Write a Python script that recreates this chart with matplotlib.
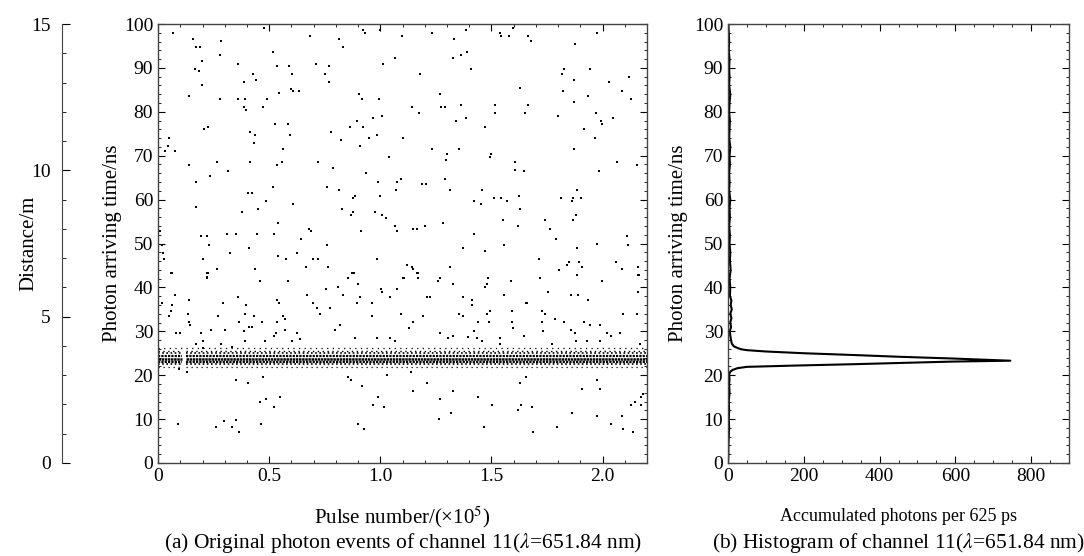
import numpy as np
import matplotlib.pyplot as plt
from matplotlib.ticker import MultipleLocator

plt.rcParams['font.family'] = ['Liberation Serif', 'DejaVu Serif']
plt.rcParams['mathtext.fontset'] = 'stix'

# background (noise) photon events: pulse number (x1e5), arrival time (ns)
pulse_x = [0.066, 0.156, 0.283, 0.171, 0.189, 0.279, 0.199, 0.168, 0.186, 0.196, 0.141, 0.279, 0.361, 0.391,
           0.360, 0.385, 0.429, 0.441, 0.388, 0.394, 0.475, 0.516, 0.534, 0.546, 0.489, 0.471, 0.588, 0.603,
           0.600, 0.609, 0.634, 0.528, 0.585, 0.592, 0.414, 0.435, 0.432, 0.561, 0.534, 0.559, 0.414, 0.207,
           0.226, 0.141, 0.267, 0.313, 0.235, 0.169, 0.172, 0.049, 0.044, 0.031, 0.076, 0.403, 0.421, 0.448,
           0.486, 0.378, 0.519, 0.607, 0.541, 0.520, 0.447, 0.351, 0.312, 0.192, 0.219, 0.229, 0.409, 0.324,
           0.202, 0.027, 0.024, 0.017, 0.009, 0.538, 0.576, 0.624, 0.643, 0.678, 0.690, 0.699, 0.718, 0.760,
           0.766, 0.666, 0.438, 0.265, 0.222, 0.059, 0.219,
           0.682, 0.813, 0.834, 0.709, 0.769, 0.751, 0.768, 0.922, 0.931, 0.999, 1.096, 1.068, 1.012, 1.178,
           0.903, 0.919, 0.993, 1.008, 0.967, 1.144, 1.174, 0.780, 0.825, 0.864, 0.897, 0.924, 0.909, 0.949,
           0.985, 1.104, 1.037, 0.721, 0.789, 0.937, 0.990, 1.074, 1.093, 1.186, 1.207, 0.759, 0.813, 0.888,
           0.879, 0.997, 1.071, 0.826, 0.877, 0.870, 0.975, 1.006, 1.024, 0.915, 1.065, 1.077, 1.147, 1.164,
           1.200, 0.984, 1.119, 1.141, 1.149, 1.164, 1.104, 1.170, 0.874, 0.882, 0.855,
           1.233, 1.332, 1.386, 1.539, 1.543, 1.579, 1.663, 1.676, 1.597, 1.973, 1.876, 1.329, 1.362, 1.389,
           1.410, 1.826, 1.819, 1.870, 1.942, 2.029, 2.119, 2.086, 2.126, 1.628, 1.820, 1.871, 1.936, 1.269,
           1.272, 1.291, 1.363, 1.341, 1.384, 1.517, 1.517, 1.471, 1.663, 1.651, 1.801, 1.969, 1.996, 1.993,
           2.047, 1.918, 1.966, 1.231, 1.299, 1.297, 1.355, 1.496, 1.494, 1.604, 1.604, 1.646, 1.871, 1.984,
           2.065, 2.153, 1.290, 1.314, 1.423, 1.453, 1.459, 1.510, 1.544, 1.570, 1.624, 1.628, 1.814, 1.862,
           1.868, 1.885, 1.903, 1.282, 1.200, 1.551, 1.621, 1.742, 1.763, 1.865, 1.882, 1.423, 1.789, 1.973,
           2.108, 2.115, 1.373, 1.472, 1.556, 1.883, 1.315, 1.714, 1.849, 1.840, 1.894, 1.906, 1.804, 2.060,
           2.086, 2.161, 2.161, 1.486, 1.718, 1.269,
           0.061, 0.219, 0.226, 0.457, 0.585, 0.018, 0.063, 0.058, 0.051, 0.075, 0.138, 0.134, 0.141, 0.145,
           0.082, 0.099, 0.192, 0.171, 0.204, 0.238, 0.204, 0.291, 0.271, 0.303, 0.283, 0.331, 0.361, 0.366,
           0.391, 0.397, 0.388, 0.409, 0.423, 0.393, 0.432, 0.466, 0.481, 0.534, 0.544, 0.534, 0.523, 0.529,
           0.562, 0.570, 0.573, 0.601, 0.625, 0.640, 0.670, 0.699, 0.714, 0.729, 0.774, 0.756, 0.811, 0.834,
           0.820, 0.796, 0.855, 0.876, 0.898, 0.909, 0.894, 0.961, 0.961, 0.885, 1.003, 1.006, 1.044, 1.074,
           1.095, 1.107, 1.128, 1.149, 1.171, 1.171, 1.194, 1.211, 0.984, 1.044, 1.066,
           0.132, 0.093, 0.351, 0.403, 0.471, 0.459, 0.486, 0.463, 0.523, 0.549, 0.088, 0.261, 0.297, 0.334,
           0.352, 0.366, 0.855, 0.870, 0.919, 0.967, 0.990, 1.017, 0.898, 0.928, 1.029, 1.137, 1.149, 1.209,
           1.261, 1.329, 1.471, 1.486, 1.479, 1.587, 1.557, 1.662, 1.719, 1.755, 1.858, 1.883, 1.891, 1.933,
           1.996, 2.164, 2.158, 1.224, 1.210, 1.374, 1.411, 1.411, 1.356, 1.370, 1.438, 1.421, 1.393, 1.479,
           1.494, 1.491, 1.434, 1.456, 1.591, 1.591, 1.537, 1.538, 1.599, 1.654, 1.648, 1.729, 1.728, 1.730,
           1.741, 1.786, 1.772, 1.826, 1.860, 1.875, 1.880, 1.918, 1.943, 1.928, 1.988, 1.988, 2.018, 2.039,
           2.078, 2.090, 2.153, 2.168, 1.267, 1.329, 1.306,
           1.628, 1.655, 1.209, 1.269, 1.329, 1.266, 1.317, 1.438, 1.468, 1.504, 1.621, 1.635, 1.684, 1.689,
           1.797, 1.861, 1.907, 1.974, 1.988, 1.974, 2.038, 2.089, 2.092, 2.135, 2.128, 2.146, 2.171, 2.183,
           2.175]
time_y = [98.0, 96.7, 96.1, 94.8, 94.8, 92.9, 91.6, 89.8, 89.2, 86.0, 83.5, 82.9, 82.9, 82.9,
          91.0, 86.7, 88.5, 87.2, 81.0, 80.4, 99.2, 93.6, 90.4, 84.2, 82.9, 81.0, 90.4, 88.5,
          85.3, 84.8, 84.8, 77.3, 77.3, 74.7, 75.4, 74.7, 72.8, 71.6, 67.9, 68.5, 68.5, 76.0,
          76.6, 67.9, 68.5, 66.6, 65.4, 64.1, 58.4, 74.1, 72.3, 71.1, 71.1, 61.6, 61.6, 57.8,
          59.7, 57.2, 62.8, 59.1, 54.7, 52.2, 52.2, 52.2, 52.2, 51.6, 51.6, 49.7, 49.0, 47.8,
          46.5, 46.5, 47.8, 49.7, 52.8, 47.2, 46.5, 47.8, 51.0, 53.4, 52.8, 46.5, 46.5, 49.7,
          44.7, 44.7, 44.1, 44.1, 43.3, 43.3, 42.1,
          97.3, 96.7, 94.8, 91.0, 90.4, 88.5, 86.7, 98.6, 98.0, 98.6, 97.3, 92.3, 91.0, 88.5,
          84.1, 82.9, 82.9, 79.1, 78.5, 81.0, 79.8, 75.3, 73.5, 76.6, 77.9, 76.6, 72.3, 74.1,
          74.7, 74.1, 69.8, 68.5, 67.2, 66.0, 64.1, 64.1, 64.7, 63.5, 63.5, 62.8, 62.2, 60.9,
          60.3, 60.9, 62.2, 57.8, 57.2, 56.5, 57.2, 56.5, 55.9, 52.8, 54.0, 52.8, 53.4, 53.4,
          54.0, 46.5, 45.2, 44.7, 44.1, 43.3, 42.1, 42.1, 43.3, 43.3, 42.1,
          98.0, 96.7, 98.6, 97.9, 97.3, 97.3, 97.3, 96.1, 99.2, 98.0, 95.4, 92.3, 92.9, 93.6,
          89.8, 89.8, 88.5, 87.2, 89.8, 86.7, 87.9, 84.8, 82.9, 85.4, 84.8, 82.3, 83.5, 84.1,
          81.0, 81.0, 81.6, 77.9, 78.5, 81.6, 79.8, 76.6, 81.6, 79.8, 79.1, 79.8, 77.2, 77.8,
          78.5, 76.0, 74.1, 71.6, 70.3, 69.0, 71.6, 70.3, 69.8, 68.5, 66.7, 66.6, 71.6, 66.6,
          68.5, 67.9, 64.7, 62.2, 59.7, 59.1, 62.2, 60.3, 60.3, 59.7, 60.9, 57.8, 60.3, 59.7,
          60.3, 62.2, 60.3, 54.7, 54.1, 55.3, 54.0, 55.3, 53.4, 55.3, 56.5, 52.2, 51.0, 50.0,
          51.6, 49.7, 49.0, 48.4, 49.7, 49.0, 44.7, 46.5, 45.8, 45.2, 45.8, 44.7, 44.0, 45.8,
          44.1, 44.7, 42.8, 42.1, 42.1, 42.1,
          43.3, 42.3, 43.3, 41.5, 41.5, 36.5, 35.9, 34.6, 33.4, 38.3, 37.1, 34.0, 32.1, 31.4,
          29.6, 29.6, 29.6, 27.1, 27.8, 30.3, 26.1, 36.5, 33.4, 30.3, 27.1, 26.5, 37.7, 32.1,
          34.0, 35.9, 30.1, 30.9, 30.9, 27.8, 33.4, 32.1, 27.8, 37.1, 36.5, 32.1, 29.0, 29.5,
          33.4, 32.8, 30.3, 27.8, 29.6, 28.2, 38.3, 36.5, 35.3, 34.0, 35.3, 39.6, 40.2, 38.3,
          31.5, 30.3, 42.1, 43.3, 40.8, 37.7, 36.5, 36.5, 33.4, 28.4, 39.6, 39.0, 37.7, 39.6,
          34.0, 42.1, 30.8, 32.1, 43.3, 42.1, 33.4, 37.7, 28.4, 28.4, 27.8,
          20.8, 21.3, 19.0, 18.3, 19.5, 13.9, 14.5, 8.9, 12.7, 15.1, 8.9, 8.3, 9.5, 8.3,
          9.9, 7.0, 19.5, 19.0, 17.6, 13.3, 15.1, 12.7, 8.9, 7.7, 20.1, 20.8, 16.4, 18.3,
          41.5, 40.8, 40.2, 42.1, 40.8, 41.5, 38.3, 36.5, 42.1, 39.0, 38.3, 42.8, 38.3, 37.1,
          41.5, 42.8, 39.0, 37.7, 37.7, 37.7, 37.1, 35.9, 34.0, 33.4, 32.1, 30.1, 28.6, 34.0,
          34.6, 32.1, 28.4, 27.8, 34.6, 32.1, 28.4, 27.1, 30.8, 36.4, 29.0, 34.6, 32.1, 30.1,
          34.0, 32.8, 27.1, 32.1, 30.2, 29.6, 27.8, 32.1, 31.4, 27.8, 31.4, 27.8, 29.6, 29.0,
          29.6, 34.0, 34.0, 27.1, 29.6, 29.0, 28.4,
          18.3, 19.5, 18.3, 14.5, 16.4, 10.1, 11.3, 15.1, 8.3, 13.3, 12.0, 13.3, 12.7, 7.0,
          8.3, 11.3, 16.9, 18.9, 16.9, 10.8, 8.9, 10.8, 7.7, 7.0, 13.3, 14.0, 13.3, 15.8,
          15.1]

# signal band: arrival-time rows (625 ps bins) filled almost every pulse
band_levels = [21.9, 22.5, 23.1, 23.8, 24.4, 25.0, 25.6, 26.2]
band_starts = [0.0, 0.128]
band_ends = [0.110, 2.2]

# histogram of channel 11
hist_time = [0, 2, 4, 6, 8, 10, 12, 14, 16, 18, 19, 20.2, 20.8, 21.2, 21.6, 21.9, 22.2, 22.5, 22.8, 23.1,
             23.3, 23.8, 24.2, 24.6, 25.0, 25.4, 25.7, 25.9, 26.2, 26.6, 27.2, 28, 29, 30, 31, 32, 33,
             34, 35, 36, 37, 38, 40, 42, 44, 46, 48, 50, 52, 54, 56, 58, 60, 62, 64, 66, 68, 70, 72,
             74, 76, 78, 80, 82, 84, 86, 88, 90, 92, 94, 96, 98, 100]
hist_counts = [0, 1, 1, 2, 3, 2, 3, 2, 4, 3, 4, 3, 6, 12, 25, 50, 180, 330, 460, 593,
               745, 593, 450, 330, 200, 100, 50, 35, 25, 15, 10, 8, 6, 5, 8, 6, 9,
               6, 10, 7, 9, 5, 6, 4, 7, 5, 6, 4, 5, 3, 5, 4, 6, 3, 4, 3, 5, 4, 6,
               3, 4, 5, 3, 4, 6, 3, 4, 3, 4, 2, 3, 2, 1]

fig = plt.figure(figsize=(10.84, 5.56), dpi=100)
ax_d = fig.add_axes([0.0572, 0.1673, 0.001, 0.7895])
ax1 = fig.add_axes([0.1458, 0.1673, 0.4511, 0.7895])
ax2 = fig.add_axes([0.6716, 0.1673, 0.3146, 0.7895])

tick_fs = 14
label_fs = 15
cap_fs = 15.5

# distance axis
for s in ['top', 'right', 'bottom']:
    ax_d.spines[s].set_visible(False)
ax_d.spines['left'].set_color('#444444')
ax_d.set_ylim(0, 15)
ax_d.set_xticks([])
ax_d.yaxis.set_major_locator(MultipleLocator(5))
ax_d.yaxis.set_minor_locator(MultipleLocator(1))
ax_d.tick_params(axis='y', which='major', direction='in', length=6, labelsize=tick_fs, pad=8)
ax_d.tick_params(axis='y', which='minor', direction='in', length=3)
ax_d.set_ylabel('Distance/m', fontsize=label_fs, labelpad=-5)
ax_d.patch.set_visible(False)

# (a) photon events
row_lw = [0.9, 1.2, 1.6, 1.8, 1.6, 1.2, 1.0, 0.9]
row_gap = [3.0, 1.5, 0.5, 0.25, 0.5, 1.5, 2.5, 3.5]
for lvl, lw, gap in zip(band_levels, row_lw, row_gap):
    for x0, x1 in zip(band_starts, band_ends):
        ax1.plot([x0, x1], [lvl, lvl], color='black', lw=lw, ls=(0, (1, gap)), solid_capstyle='butt')
ax1.scatter(pulse_x, time_y, s=3, color='black', marker='s', linewidths=0)
ax1.set_xlim(0, 2.2)
ax1.set_ylim(0, 100)
ax1.set_xticks([0, 0.5, 1.0, 1.5, 2.0])
ax1.set_xticklabels(['0', '0.5', '1.0', '1.5', '2.0'])
ax1.xaxis.set_minor_locator(MultipleLocator(0.1))
ax1.yaxis.set_major_locator(MultipleLocator(10))
ax1.yaxis.set_minor_locator(MultipleLocator(2))
ax1.set_xlabel('Pulse number/(×10$^5$)', fontsize=label_fs, labelpad=14)
ax1.set_ylabel('Photon arriving time/ns', fontsize=label_fs, labelpad=1)
ax1.text(0.5, -0.182, '(a) Original photon events of channel 11($\\lambda$=651.84 nm)',
         transform=ax1.transAxes, ha='center', va='center', fontsize=cap_fs)

# (b) histogram
ax2.plot(hist_counts, hist_time, color='black', lw=1.5)
ax2.set_xlim(0, 900)
ax2.set_ylim(0, 100)
ax2.xaxis.set_major_locator(MultipleLocator(200))
ax2.xaxis.set_minor_locator(MultipleLocator(50))
ax2.yaxis.set_major_locator(MultipleLocator(10))
ax2.yaxis.set_minor_locator(MultipleLocator(2))
ax2.set_xlabel('Accumulated photons per 625 ps', fontsize=13, labelpad=17)
ax2.set_ylabel('Photon arriving time/ns', fontsize=label_fs, labelpad=4)
ax2.text(0.5, -0.182, '(b) Histogram of channel 11($\\lambda$=651.84 nm)',
         transform=ax2.transAxes, ha='center', va='center', fontsize=cap_fs)

for ax in (ax1, ax2):
    ax.tick_params(which='both', direction='in', top=True, right=True, labelsize=tick_fs)
    ax.tick_params(which='major', length=5)
    ax.tick_params(which='minor', length=2.5)
    for s in ax.spines.values():
        s.set_linewidth(1.0)
        s.set_color('#444444')

fig.savefig('out.png', dpi=100)
